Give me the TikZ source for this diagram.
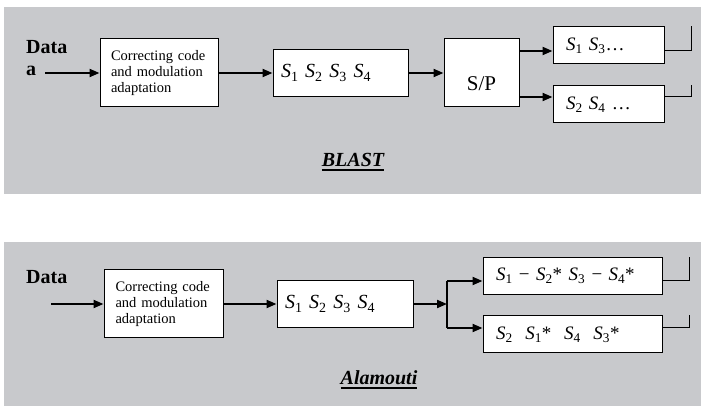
\documentclass[tikz,border=0pt]{standalone}
\usepackage{fontspec}
\setmainfont{Liberation Serif}
\usetikzlibrary{arrows.meta, positioning, calc}
\definecolor{panelgray}{RGB}{200,201,204}
\newcommand{\Ssub}[1]{\textit{S}\textsubscript{#1}}
\newcommand{\thickul}[1]{\setbox0\hbox{#1}\rlap{\rule[-4pt]{\wd0}{1.6pt}}\box0}
\tikzset{
  % Gray background of each scheme
  panel/.style={fill=panelgray, draw=none},
  % Coding and modulation block
  codebox/.style={
    rectangle, draw=black, fill=white, line width=1pt, minimum width=#1, minimum height=68pt,
    text width=96pt, inner xsep=11pt, align=left, font=\fontsize{14.5}{16}\selectfont
  },
  % Symbol sequence block (parameterized by width)
  seqbox/.style={
    rectangle, draw=black, fill=white, line width=1pt, minimum width=#1, minimum height=47pt,
    text width=#1-16pt, inner xsep=8pt, align=left, font=\fontsize{20}{22}\selectfont
  },
  spbox/.style={rectangle, draw=black, fill=white, line width=1pt, minimum width=75pt, minimum height=68pt},
  % Output stream block (parameterized by width)
  outbox/.style={
    rectangle, draw=black, fill=white, line width=1pt, minimum width=#1, minimum height=37pt,
    text width=#1-26pt, inner xsep=13pt, align=left, font=\fontsize{19}{21}\selectfont
  },
  datalabel/.style={font=\fontsize{20}{22}\selectfont\bfseries, align=left, inner sep=0pt},
  schemelabel/.style={font=\fontsize{20}{22}\selectfont\bfseries\itshape},
  sigarrow/.style={-{Triangle[length=10pt, width=8pt]}, line width=2pt},
  sigline/.style={line width=2pt},
  antline/.style={line width=1pt}
}
\begin{document}
\begin{tikzpicture}[x=1pt, y=1pt]
  \useasboundingbox (0,0) rectangle (701,406);

  % BLAST panel
  \fill[panel] (4,212) rectangle (701,399);

  \node[datalabel, anchor=west] (data1) at (26,348) {Data\\a};
  \coordinate (in1) at (45,333);

  \node[codebox=118pt] (code1) at (159,333) {Correcting code\\and modulation\\adaptation};
  \node[seqbox=135pt, right=54pt of code1] (seq1) {\Ssub{1} \Ssub{2} \Ssub{3} \Ssub{4}};
  \node[spbox, right=35pt of seq1] (sp) {};
  \node[font=\fontsize{21}{23}\selectfont] (sptext) at ([yshift=-11pt]sp.center) {S/P};

  % Parallel outputs
  \node[outbox=111pt] (out1a) at (608.5,360.5) {\Ssub{1} \Ssub{3}…};
  \node[outbox=111pt] (out1b) at (608.5,301.5) {\Ssub{2} \Ssub{4} …};
  \coordinate (t1) at ([yshift=-5.5pt]out1a.west);
  \coordinate (t2) at ([yshift=7.5pt]out1b.west);

  % Arrows
  \draw[sigarrow] (in1) -- (code1);
  \draw[sigarrow] (code1) -- (seq1);
  \draw[sigarrow] (seq1) -- (sp);
  \draw[sigarrow] (t1 -| sp.east) -- (t1);
  \draw[sigarrow] (t2 -| sp.east) -- (t2);

  % Antennas
  \draw[antline] ([yshift=-5.5pt]out1a.east) -| ([xshift=27pt]out1a.north east);
  \draw[antline] ([yshift=7.5pt]out1b.east) -| ([xshift=27pt]out1b.north east);

  \node[schemelabel] (blast) at (353,244) {\thickul{BLAST}};

  % Alamouti panel
  \fill[panel] (4,0) rectangle (701,164);

  \node[datalabel, anchor=west] (data2) at (26,129) {Data};
  \coordinate (in2) at (51,102);

  \node[codebox=119pt] (code2) at (163.5,102) {Correcting code\\and modulation\\adaptation};
  \node[seqbox=136pt, right=53pt of code2] (seq2) {\Ssub{1} \Ssub{2} \Ssub{3} \Ssub{4}};
  \coordinate (split) at (447,102);

  % Space-time coded outputs
  \node[outbox=179pt] (out2a) at (572.5,130) {\Ssub{1} − \Ssub{2}* \Ssub{3} − \Ssub{4}*};
  \node[outbox=179pt] (out2b) at (572.5,71.5) {\Ssub{2}~ \Ssub{1}*~ \Ssub{4}~ \Ssub{3}*};
  \coordinate (t3) at ([yshift=-5pt]out2a.west);
  \coordinate (t4) at ([yshift=6.5pt]out2b.west);

  % Arrows
  \draw[sigarrow] (in2) -- (code2);
  \draw[sigarrow] (code2) -- (seq2);
  \draw[sigarrow] (seq2) -- (split);
  \draw[sigline] (t3 -| split) -- (t4 -| split);
  \draw[sigarrow] (t3 -| split) -- (t3);
  \draw[sigarrow] (t4 -| split) -- (t4);

  % Antennas
  \draw[antline] ([yshift=-5pt]out2a.east) -| ([xshift=27pt]out2a.north east);
  \draw[antline] ([yshift=6.5pt]out2b.east) -| ([xshift=27pt]out2b.north east);

  \node[schemelabel] (alamouti) at (379,26) {\thickul{Alamouti}};
\end{tikzpicture}
\end{document}
